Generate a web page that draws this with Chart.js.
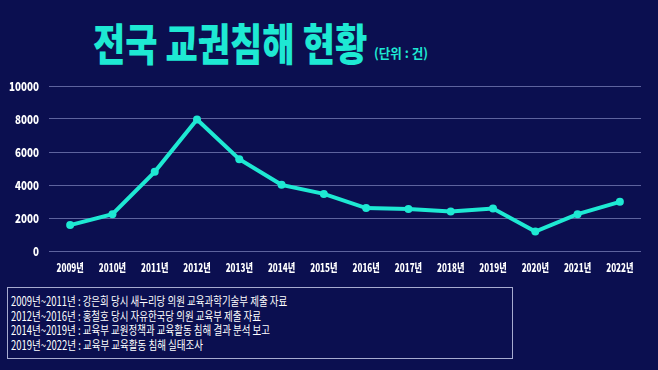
<!DOCTYPE html>
<html>
<head>
<meta charset="utf-8">
<script src="https://cdn.jsdelivr.net/npm/chart.js@4"></script>
<style>
  html, body { margin: 0; padding: 0; }
  body {
    width: 658px; height: 370px; overflow: hidden; position: relative;
    background: #0b0f50;
    font-family: 'Noto Sans CJK KR', sans-serif;
  }
  .fit { display: inline-block; white-space: nowrap; transform-origin: left top; }
  .title {
    position: absolute; left: 93px; top: 14px;
    color: #1ee9d3; font-size: 44px; font-weight: 900; line-height: 56px;
  }
  .unit {
    position: absolute; left: 374px; top: 43px;
    color: #1ee9d3; font-size: 13px; font-weight: 700;
  }
  .chart-wrap { position: absolute; left: 0; top: 78px; width: 658px; height: 204px; }
  .source {
    position: absolute; left: 7px; top: 287px; width: 506px; height: 72px;
    border: 1px solid #a7abd0; box-sizing: border-box; padding: 6px 0 0 3px;
  }
  .source .fit {
    display: block; width: max-content; color: #fff; font-size: 12.5px; line-height: 14.5px;
  }
</style>
</head>
<body>
<div class="title fit" data-w="274">전국 교권침해 현황</div>
<div class="unit fit" data-w="54">(단위 : 건)</div>
<div class="chart-wrap"><canvas id="chart"></canvas></div>
<div class="source">
  <span class="fit" data-w="276">2009년~2011년 : 강은희 당시 새누리당 의원 교육과학기술부 제출 자료</span>
  <span class="fit" data-w="250">2012년~2016년 : 홍철호 당시 자유한국당 의원 교육부 제출 자료</span>
  <span class="fit" data-w="259">2014년~2019년 : 교육부 교원정책과 교육활동 침해 결과 분석 보고</span>
  <span class="fit" data-w="192">2019년~2022년 : 교육부 교육활동 침해 실태조사</span>
</div>
<script>
// Data
const years = ['2009년', '2010년', '2011년', '2012년', '2013년', '2014년', '2015년',
  '2016년', '2017년', '2018년', '2019년', '2020년', '2021년', '2022년'];
const cases = [1570, 2230, 4800, 7970, 5560, 4010, 3460, 2600, 2540, 2400, 2580, 1180, 2230, 2980];
const yTicks = [0, 2000, 4000, 6000, 8000, 10000];

const lineColor = '#1ee9d3';
const labelFamily = "'Noto Sans CJK KR', sans-serif";

// squeeze text blocks horizontally to the widths seen in the reference (narrow display font)
document.querySelectorAll('.fit').forEach(el => {
  const w = el.getBoundingClientRect().width;
  el.style.transform = `scaleX(${(+el.dataset.w / w).toFixed(3)})`;
});

// tick labels drawn condensed at the scale's own tick positions
const condensedTicks = {
  id: 'condensedTicks',
  afterDraw(chart) {
    const ctx = chart.ctx;
    const xs = chart.scales.x, ys = chart.scales.y;
    ctx.save();
    ctx.fillStyle = '#ffffff';
    ctx.textBaseline = 'middle';

    ctx.font = `900 12px ${labelFamily}`;
    ctx.textAlign = 'right';
    ys.ticks.forEach((t, i) => {
      ctx.save();
      ctx.translate(39, ys.getPixelForTick(i));
      ctx.scale(0.82, 1);
      ctx.fillText(String(t.value), 0, 0);
      ctx.restore();
    });

    ctx.font = `900 11px ${labelFamily}`;
    ctx.textAlign = 'center';
    xs.ticks.forEach((t, i) => {
      ctx.save();
      ctx.translate(xs.getPixelForTick(i), xs.top + 17);
      ctx.scale(0.74, 1);
      ctx.fillText(years[i], 0, 0);
      ctx.restore();
    });
    ctx.restore();
  }
};

new Chart(document.getElementById('chart'), {
  type: 'line',
  data: {
    labels: years,
    datasets: [{
      data: cases,
      borderColor: lineColor,
      backgroundColor: lineColor,
      borderWidth: 4,
      pointRadius: 4,
      pointBackgroundColor: lineColor,
      pointBorderWidth: 0,
      tension: 0,
      fill: false
    }]
  },
  options: {
    responsive: true,
    maintainAspectRatio: false,
    animation: false,
    layout: { padding: { left: 0, right: 17, top: 8, bottom: 0 } },
    plugins: { legend: { display: false }, tooltip: { enabled: false } },
    scales: {
      x: {
        offset: true,
        grid: { display: false },
        border: { display: false },
        ticks: { display: false, autoSkip: false },
        afterFit: axis => { axis.height = 31; }
      },
      y: {
        min: 0,
        max: 10000,
        afterBuildTicks: axis => { axis.ticks = yTicks.map(v => ({ value: v })); },
        grid: { color: 'rgba(150, 155, 210, 0.6)', lineWidth: 1, drawTicks: false },
        border: { display: false },
        ticks: { display: false },
        afterFit: axis => { axis.width = 49; }
      }
    }
  },
  plugins: [condensedTicks]
});
</script>
</body>
</html>
